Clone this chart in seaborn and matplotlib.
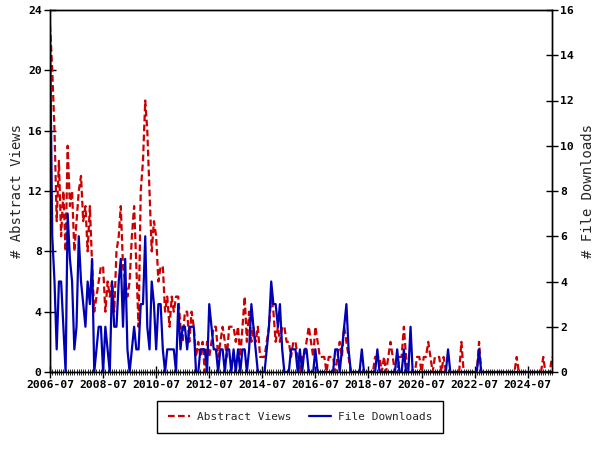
import pandas as pd
import matplotlib
matplotlib.use("Agg")
import matplotlib.pyplot as plt
import matplotlib.dates as mdates
import seaborn as sns

sns.set_theme(style="white")
plt.rcParams['font.family'] = ['DejaVu Sans Mono']
plt.rcParams['font.weight'] = 'bold'

start_month = "2006-07"

# monthly counts, one row per year (Jul..Jun)
views = [
    23, 20, 16, 10, 14, 9, 12, 8, 15, 11, 12, 8,
    10, 12, 13, 10, 11, 8, 11, 7, 4, 5, 6, 7,
    7, 4, 6, 5, 6, 4, 8, 9, 11, 7, 6, 5,
    6, 9, 11, 7, 3, 12, 14, 18, 16, 12, 8, 10,
    9, 6, 7, 7, 4, 5, 3, 5, 4, 5, 5, 3,
    2, 4, 4, 2, 4, 3, 1, 2, 1, 2, 0, 2,
    1, 2, 3, 3, 1, 2, 3, 2, 1, 3, 3, 3,
    2, 3, 1, 3, 5, 2, 4, 2, 3, 2, 3, 1,
    1, 1, 2, 3, 5, 4, 2, 3, 2, 3, 3, 2,
    2, 1, 2, 2, 1, 0, 1, 1, 2, 3, 2, 1,
    3, 2, 1, 1, 1, 0, 1, 1, 1, 0, 1, 2,
    1, 3, 2, 1, 0, 0, 0, 0, 0, 0, 0, 0,
    0, 0, 0, 1, 1, 1, 0, 1, 0, 1, 2, 1,
    0, 0, 1, 1, 3, 1, 0, 0, 0, 0, 1, 1,
    0, 1, 1, 2, 1, 0, 1, 1, 1, 0, 1, 0,
    0, 0, 0, 0, 0, 0, 2, 0, 0, 0, 0, 0,
    0, 0, 2, 0, 0, 0, 0, 0, 0, 0, 0, 0,
    0, 0, 0, 0, 0, 0, 0, 1, 0, 0, 0, 0,
    0, 0, 0, 0, 0, 0, 0, 1, 0, 0, 0, 1,
]
downloads = [
    15, 6, 4, 1, 4, 4, 2, 0, 7, 5, 4, 1,
    2, 6, 4, 3, 2, 4, 3, 5, 0, 1, 2, 2,
    0, 2, 1, 0, 4, 2, 2, 4, 5, 2, 5, 1,
    0, 1, 2, 1, 1, 3, 3, 6, 2, 1, 4, 3,
    1, 3, 3, 1, 0, 1, 1, 1, 1, 0, 3, 1,
    2, 2, 1, 2, 2, 2, 0, 0, 1, 1, 1, 0,
    3, 2, 1, 1, 0, 1, 1, 0, 1, 1, 0, 1,
    0, 1, 0, 1, 1, 0, 1, 3, 2, 1, 0, 0,
    0, 0, 1, 2, 4, 3, 3, 2, 3, 1, 0, 0,
    0, 1, 1, 1, 0, 1, 0, 1, 1, 0, 0, 0,
    1, 0, 0, 0, 0, 0, 0, 0, 0, 1, 1, 0,
    1, 2, 3, 1, 0, 0, 0, 0, 0, 1, 0, 0,
    0, 0, 0, 0, 1, 0, 0, 0, 0, 0, 0, 0,
    0, 1, 0, 0, 1, 0, 0, 2, 0, 0, 0, 0,
    0, 0, 0, 0, 0, 0, 0, 0, 0, 0, 0, 0,
    1, 0, 0, 0, 0, 0, 0, 0, 0, 0, 0, 0,
    0, 0, 1, 0, 0, 0, 0, 0, 0, 0, 0, 0,
    0, 0, 0, 0, 0, 0, 0, 0, 0, 0, 0, 0,
    0, 0, 0, 0, 0, 0, 0, 0, 0, 0, 0, 0,
]

months = pd.date_range(start_month, periods=len(views), freq="MS")
df = pd.DataFrame({"month": months, "views": views, "downloads": downloads})

red = "#cc0000"
blue = "#0000b4"

fig, ax = plt.subplots(figsize=(6, 4.5), dpi=100)
fig.subplots_adjust(left=50 / 600, right=552 / 600, top=1 - 10 / 450, bottom=1 - 372 / 450)
ax2 = ax.twinx()

sns.lineplot(data=df, x="month", y="views", ax=ax, color=red, linewidth=1.6,
             linestyle=(0, (3, 1.5)), label="Abstract Views", legend=False)
sns.lineplot(data=df, x="month", y="downloads", ax=ax2, color=blue, linewidth=1.6,
             label="File Downloads", legend=False)

ax.set_xlim(months[0], months[-1])
ax.set_ylim(0, 24)
ax.set_yticks(range(0, 25, 4))
ax2.set_ylim(0, 16)
ax2.set_yticks(range(0, 17, 2))

ax.xaxis.set_major_locator(mdates.YearLocator(base=2, month=7, day=1))
ax.xaxis.set_major_formatter(mdates.DateFormatter("%Y-%m"))
ax.xaxis.set_minor_locator(mdates.MonthLocator())

for a in (ax, ax2):
    a.tick_params(which='major', direction='inout', length=8, width=1, labelsize=8.2,
                  colors='black', pad=2)
    a.tick_params(which='minor', direction='inout', length=4, width=0.6, colors='black')
    for s in a.spines.values():
        s.set_color('black')
        s.set_linewidth(1)
ax.tick_params(axis='y', left=True)
ax.tick_params(axis='x', bottom=True, which='both')
ax2.tick_params(axis='y', right=True)

ax.set_xlabel("")
ax.set_ylabel("# Abstract Views", fontsize=10, fontweight='normal', labelpad=3)
ax2.set_ylabel("# File Downloads", fontsize=10, fontweight='normal', labelpad=5)

h1, l1 = ax.get_legend_handles_labels()
h2, l2 = ax2.get_legend_handles_labels()
leg = fig.legend(h1 + h2, l1 + l2, loc='center', bbox_to_anchor=(300 / 600, 1 - 417 / 450),
                 ncol=2, frameon=True, fancybox=False, edgecolor='black', framealpha=1,
                 prop={'size': 8, 'weight': 'normal'}, handlelength=2.0, handletextpad=0.6,
                 borderpad=1.0, columnspacing=1.6)
leg.get_frame().set_linewidth(1)

plt.savefig("out.png", dpi=100)
plt.close()
